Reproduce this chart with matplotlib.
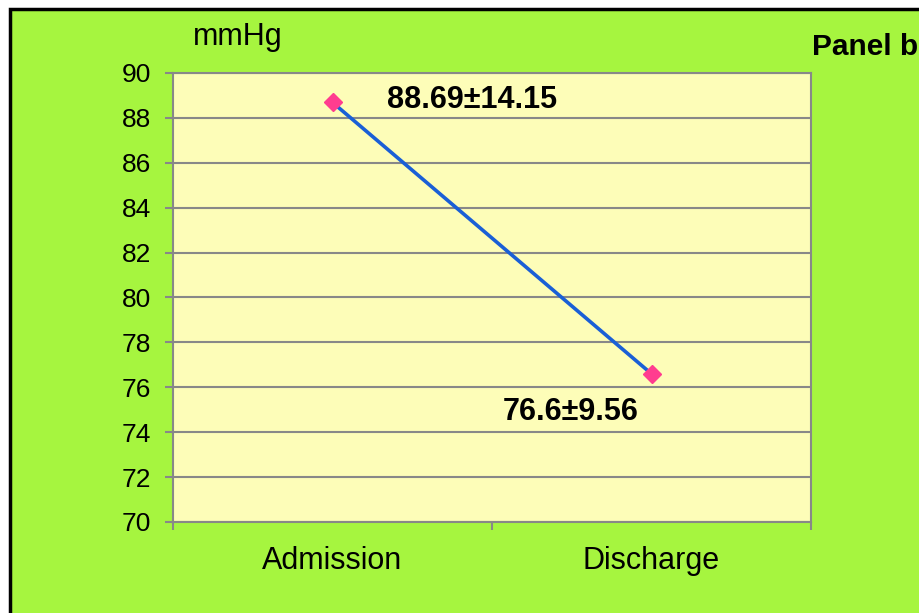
import matplotlib.pyplot as plt
from matplotlib.patches import Rectangle

# Data
categories = ['Admission', 'Discharge']
means = [88.69, 76.6]
labels = ['88.69±14.15', '76.6±9.56']
yticks = list(range(70, 91, 2))

plt.rcParams['font.family'] = ['Liberation Sans', 'DejaVu Sans']

W, H = 919, 613
fig = plt.figure(figsize=(W / 100, H / 100), dpi=100, facecolor='white')

# green panel with black frame (runs off the right/bottom edge)
fig.patches.append(Rectangle((10 / W, -0.05), 1.1, 1 - 9 / H + 0.05,
                             transform=fig.transFigure, facecolor='#a6f53f',
                             edgecolor='black', linewidth=2.5, zorder=-5))

ax = fig.add_axes([173 / W, 1 - 522 / H, 638 / W, 449 / H])
ax.set_facecolor('#fdfdb8')

x = [i + 0.5 for i in range(len(categories))]
ax.plot(x, means, color='#1a5fd6', linewidth=2.6, zorder=3)
ax.plot(x, means, linestyle='none', marker='D', markersize=9.5,
        color='#ff3d8f', zorder=4)

ax.set_xlim(0, len(categories))
ax.set_ylim(70, 90)
ax.set_yticks(yticks)
ax.set_xticks(range(len(categories) + 1))
ax.set_xticklabels([])
ax.set_xticks(x, minor=True)
ax.set_xticklabels(categories, minor=True, fontsize=22)
ax.tick_params(axis='x', which='minor', length=0, pad=17)
ax.tick_params(axis='x', which='major', length=6, color='#888888', width=1.5)
ax.tick_params(axis='y', length=6, color='#888888', width=1.5, labelsize=19, pad=10)
ax.yaxis.grid(True, color='#888888', linewidth=1.5)
ax.set_axisbelow(True)
for sp in ax.spines.values():
    sp.set_color('#888888')
    sp.set_linewidth(1.5)

ax.annotate(labels[0], (x[0], means[0]), xytext=(55, 2),
            textcoords='offset pixels', ha='left', va='center',
            fontsize=22, fontweight='bold')
ax.annotate(labels[1], (x[1], means[1]), xytext=(-81, -38),
            textcoords='offset pixels', ha='center', va='center',
            fontsize=22, fontweight='bold')

fig.text(238 / W, 1 - 37 / H, 'mmHg', fontsize=22, ha='center', va='center')
fig.text(812 / W, 1 - 47 / H, 'Panel b', fontsize=21.5, fontweight='bold',
         ha='left', va='center')

fig.savefig('out.png', dpi=100, facecolor='white')
